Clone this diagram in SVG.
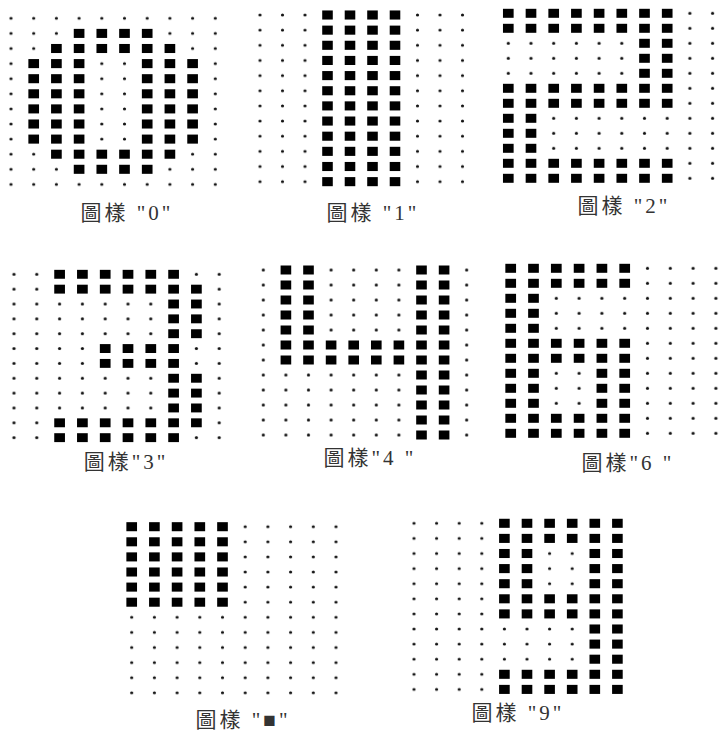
<svg xmlns="http://www.w3.org/2000/svg" xmlns:xlink="http://www.w3.org/1999/xlink" width="720" height="731" viewBox="0 0 720 731">
<style>
.lbl{font-family:"Liberation Serif","Noto Sans CJK TC",serif;font-size:21px;fill:#333;text-anchor:middle;letter-spacing:3px}
</style>
<defs>
<pattern id="dots" patternUnits="userSpaceOnUse" x="-0.5" y="-0.5" width="1" height="1">
<ellipse cx="0.5" cy="0.5" rx="0.07" ry="0.1" fill="#111"/>
</pattern>
<rect id="s" x="-0.235" y="-0.3" width="0.47" height="0.6" fill="#000"/>
</defs>
<rect width="720" height="731" fill="#fff"/>

<g id="pattern-0">
<g transform="translate(11,18.3) scale(22.7,15.1)">
<rect x="-0.5" y="-0.5" width="10" height="12" fill="url(#dots)"/>
<use href="#s" x="3" y="1"/><use href="#s" x="4" y="1"/><use href="#s" x="5" y="1"/><use href="#s" x="6" y="1"/>
<use href="#s" x="2" y="2"/><use href="#s" x="3" y="2"/><use href="#s" x="4" y="2"/><use href="#s" x="5" y="2"/><use href="#s" x="6" y="2"/><use href="#s" x="7" y="2"/>
<use href="#s" x="1" y="3"/><use href="#s" x="2" y="3"/><use href="#s" x="3" y="3"/><use href="#s" x="6" y="3"/><use href="#s" x="7" y="3"/><use href="#s" x="8" y="3"/>
<use href="#s" x="1" y="4"/><use href="#s" x="2" y="4"/><use href="#s" x="3" y="4"/><use href="#s" x="6" y="4"/><use href="#s" x="7" y="4"/><use href="#s" x="8" y="4"/>
<use href="#s" x="1" y="5"/><use href="#s" x="2" y="5"/><use href="#s" x="3" y="5"/><use href="#s" x="6" y="5"/><use href="#s" x="7" y="5"/><use href="#s" x="8" y="5"/>
<use href="#s" x="1" y="6"/><use href="#s" x="2" y="6"/><use href="#s" x="3" y="6"/><use href="#s" x="6" y="6"/><use href="#s" x="7" y="6"/><use href="#s" x="8" y="6"/>
<use href="#s" x="1" y="7"/><use href="#s" x="2" y="7"/><use href="#s" x="3" y="7"/><use href="#s" x="6" y="7"/><use href="#s" x="7" y="7"/><use href="#s" x="8" y="7"/>
<use href="#s" x="1" y="8"/><use href="#s" x="2" y="8"/><use href="#s" x="3" y="8"/><use href="#s" x="6" y="8"/><use href="#s" x="7" y="8"/><use href="#s" x="8" y="8"/>
<use href="#s" x="2" y="9"/><use href="#s" x="3" y="9"/><use href="#s" x="4" y="9"/><use href="#s" x="5" y="9"/><use href="#s" x="6" y="9"/><use href="#s" x="7" y="9"/>
<use href="#s" x="3" y="10"/><use href="#s" x="4" y="10"/><use href="#s" x="5" y="10"/><use href="#s" x="6" y="10"/>
</g>
<text class="lbl" x="127" y="220">圖樣 "0"</text>
</g>

<g id="pattern-1">
<g transform="translate(260,15) scale(22.5,15.15)">
<rect x="-0.5" y="-0.5" width="10" height="12" fill="url(#dots)"/>
<use href="#s" x="3" y="0"/><use href="#s" x="4" y="0"/><use href="#s" x="5" y="0"/><use href="#s" x="6" y="0"/>
<use href="#s" x="3" y="1"/><use href="#s" x="4" y="1"/><use href="#s" x="5" y="1"/><use href="#s" x="6" y="1"/>
<use href="#s" x="3" y="2"/><use href="#s" x="4" y="2"/><use href="#s" x="5" y="2"/><use href="#s" x="6" y="2"/>
<use href="#s" x="3" y="3"/><use href="#s" x="4" y="3"/><use href="#s" x="5" y="3"/><use href="#s" x="6" y="3"/>
<use href="#s" x="3" y="4"/><use href="#s" x="4" y="4"/><use href="#s" x="5" y="4"/><use href="#s" x="6" y="4"/>
<use href="#s" x="3" y="5"/><use href="#s" x="4" y="5"/><use href="#s" x="5" y="5"/><use href="#s" x="6" y="5"/>
<use href="#s" x="3" y="6"/><use href="#s" x="4" y="6"/><use href="#s" x="5" y="6"/><use href="#s" x="6" y="6"/>
<use href="#s" x="3" y="7"/><use href="#s" x="4" y="7"/><use href="#s" x="5" y="7"/><use href="#s" x="6" y="7"/>
<use href="#s" x="3" y="8"/><use href="#s" x="4" y="8"/><use href="#s" x="5" y="8"/><use href="#s" x="6" y="8"/>
<use href="#s" x="3" y="9"/><use href="#s" x="4" y="9"/><use href="#s" x="5" y="9"/><use href="#s" x="6" y="9"/>
<use href="#s" x="3" y="10"/><use href="#s" x="4" y="10"/><use href="#s" x="5" y="10"/><use href="#s" x="6" y="10"/>
<use href="#s" x="3" y="11"/><use href="#s" x="4" y="11"/><use href="#s" x="5" y="11"/><use href="#s" x="6" y="11"/>
</g>
<text class="lbl" x="373" y="220">圖樣 "1"</text>
</g>

<g id="pattern-2">
<g transform="translate(508.3,13.3) scale(22.7,15)">
<rect x="-0.5" y="-0.5" width="10" height="12" fill="url(#dots)"/>
<use href="#s" x="0" y="0"/><use href="#s" x="1" y="0"/><use href="#s" x="2" y="0"/><use href="#s" x="3" y="0"/><use href="#s" x="4" y="0"/><use href="#s" x="5" y="0"/><use href="#s" x="6" y="0"/><use href="#s" x="7" y="0"/>
<use href="#s" x="0" y="1"/><use href="#s" x="1" y="1"/><use href="#s" x="2" y="1"/><use href="#s" x="3" y="1"/><use href="#s" x="4" y="1"/><use href="#s" x="5" y="1"/><use href="#s" x="6" y="1"/><use href="#s" x="7" y="1"/>
<use href="#s" x="6" y="2"/><use href="#s" x="7" y="2"/>
<use href="#s" x="6" y="3"/><use href="#s" x="7" y="3"/>
<use href="#s" x="6" y="4"/><use href="#s" x="7" y="4"/>
<use href="#s" x="0" y="5"/><use href="#s" x="1" y="5"/><use href="#s" x="2" y="5"/><use href="#s" x="3" y="5"/><use href="#s" x="4" y="5"/><use href="#s" x="5" y="5"/><use href="#s" x="6" y="5"/><use href="#s" x="7" y="5"/>
<use href="#s" x="0" y="6"/><use href="#s" x="1" y="6"/><use href="#s" x="2" y="6"/><use href="#s" x="3" y="6"/><use href="#s" x="4" y="6"/><use href="#s" x="5" y="6"/><use href="#s" x="6" y="6"/><use href="#s" x="7" y="6"/>
<use href="#s" x="0" y="7"/><use href="#s" x="1" y="7"/>
<use href="#s" x="0" y="8"/><use href="#s" x="1" y="8"/>
<use href="#s" x="0" y="9"/><use href="#s" x="1" y="9"/>
<use href="#s" x="0" y="10"/><use href="#s" x="1" y="10"/><use href="#s" x="2" y="10"/><use href="#s" x="3" y="10"/><use href="#s" x="4" y="10"/><use href="#s" x="5" y="10"/><use href="#s" x="6" y="10"/><use href="#s" x="7" y="10"/>
<use href="#s" x="0" y="11"/><use href="#s" x="1" y="11"/><use href="#s" x="2" y="11"/><use href="#s" x="3" y="11"/><use href="#s" x="4" y="11"/><use href="#s" x="5" y="11"/><use href="#s" x="6" y="11"/><use href="#s" x="7" y="11"/>
</g>
<text class="lbl" x="624" y="213">圖樣 "2"</text>
</g>

<g id="pattern-3">
<g transform="translate(14,274.3) scale(22.8,14.85)">
<rect x="-0.5" y="-0.5" width="10" height="12" fill="url(#dots)"/>
<use href="#s" x="2" y="0"/><use href="#s" x="3" y="0"/><use href="#s" x="4" y="0"/><use href="#s" x="5" y="0"/><use href="#s" x="6" y="0"/><use href="#s" x="7" y="0"/>
<use href="#s" x="2" y="1"/><use href="#s" x="3" y="1"/><use href="#s" x="4" y="1"/><use href="#s" x="5" y="1"/><use href="#s" x="6" y="1"/><use href="#s" x="7" y="1"/><use href="#s" x="8" y="1"/>
<use href="#s" x="7" y="2"/><use href="#s" x="8" y="2"/>
<use href="#s" x="7" y="3"/><use href="#s" x="8" y="3"/>
<use href="#s" x="7" y="4"/><use href="#s" x="8" y="4"/>
<use href="#s" x="4" y="5"/><use href="#s" x="5" y="5"/><use href="#s" x="6" y="5"/><use href="#s" x="7" y="5"/>
<use href="#s" x="4" y="6"/><use href="#s" x="5" y="6"/><use href="#s" x="6" y="6"/><use href="#s" x="7" y="6"/>
<use href="#s" x="7" y="7"/><use href="#s" x="8" y="7"/>
<use href="#s" x="7" y="8"/><use href="#s" x="8" y="8"/>
<use href="#s" x="7" y="9"/><use href="#s" x="8" y="9"/>
<use href="#s" x="2" y="10"/><use href="#s" x="3" y="10"/><use href="#s" x="4" y="10"/><use href="#s" x="5" y="10"/><use href="#s" x="6" y="10"/><use href="#s" x="7" y="10"/><use href="#s" x="8" y="10"/>
<use href="#s" x="2" y="11"/><use href="#s" x="3" y="11"/><use href="#s" x="4" y="11"/><use href="#s" x="5" y="11"/><use href="#s" x="6" y="11"/><use href="#s" x="7" y="11"/>
</g>
<text class="lbl" x="126" y="469">圖樣"3"</text>
</g>

<g id="pattern-4">
<g transform="translate(263.3,270) scale(22.6,15)">
<rect x="-0.5" y="-0.5" width="10" height="12" fill="url(#dots)"/>
<use href="#s" x="1" y="0"/><use href="#s" x="2" y="0"/><use href="#s" x="7" y="0"/><use href="#s" x="8" y="0"/>
<use href="#s" x="1" y="1"/><use href="#s" x="2" y="1"/><use href="#s" x="7" y="1"/><use href="#s" x="8" y="1"/>
<use href="#s" x="1" y="2"/><use href="#s" x="2" y="2"/><use href="#s" x="7" y="2"/><use href="#s" x="8" y="2"/>
<use href="#s" x="1" y="3"/><use href="#s" x="2" y="3"/><use href="#s" x="7" y="3"/><use href="#s" x="8" y="3"/>
<use href="#s" x="1" y="4"/><use href="#s" x="2" y="4"/><use href="#s" x="7" y="4"/><use href="#s" x="8" y="4"/>
<use href="#s" x="1" y="5"/><use href="#s" x="2" y="5"/><use href="#s" x="3" y="5"/><use href="#s" x="4" y="5"/><use href="#s" x="5" y="5"/><use href="#s" x="6" y="5"/><use href="#s" x="7" y="5"/><use href="#s" x="8" y="5"/>
<use href="#s" x="1" y="6"/><use href="#s" x="2" y="6"/><use href="#s" x="3" y="6"/><use href="#s" x="4" y="6"/><use href="#s" x="5" y="6"/><use href="#s" x="6" y="6"/><use href="#s" x="7" y="6"/><use href="#s" x="8" y="6"/>
<use href="#s" x="7" y="7"/><use href="#s" x="8" y="7"/>
<use href="#s" x="7" y="8"/><use href="#s" x="8" y="8"/>
<use href="#s" x="7" y="9"/><use href="#s" x="8" y="9"/>
<use href="#s" x="7" y="10"/><use href="#s" x="8" y="10"/>
<use href="#s" x="7" y="11"/><use href="#s" x="8" y="11"/>
</g>
<text class="lbl" x="370" y="465">圖樣"4 "</text>
</g>

<g id="pattern-6">
<g transform="translate(510.7,268.3) scale(22.8,15)">
<rect x="-0.5" y="-0.5" width="10" height="12" fill="url(#dots)"/>
<use href="#s" x="0" y="0"/><use href="#s" x="1" y="0"/><use href="#s" x="2" y="0"/><use href="#s" x="3" y="0"/><use href="#s" x="4" y="0"/><use href="#s" x="5" y="0"/>
<use href="#s" x="0" y="1"/><use href="#s" x="1" y="1"/><use href="#s" x="2" y="1"/><use href="#s" x="3" y="1"/><use href="#s" x="4" y="1"/><use href="#s" x="5" y="1"/>
<use href="#s" x="0" y="2"/><use href="#s" x="1" y="2"/>
<use href="#s" x="0" y="3"/><use href="#s" x="1" y="3"/>
<use href="#s" x="0" y="4"/><use href="#s" x="1" y="4"/>
<use href="#s" x="0" y="5"/><use href="#s" x="1" y="5"/><use href="#s" x="2" y="5"/><use href="#s" x="3" y="5"/><use href="#s" x="4" y="5"/><use href="#s" x="5" y="5"/>
<use href="#s" x="0" y="6"/><use href="#s" x="1" y="6"/><use href="#s" x="2" y="6"/><use href="#s" x="3" y="6"/><use href="#s" x="4" y="6"/><use href="#s" x="5" y="6"/>
<use href="#s" x="0" y="7"/><use href="#s" x="1" y="7"/><use href="#s" x="4" y="7"/><use href="#s" x="5" y="7"/>
<use href="#s" x="0" y="8"/><use href="#s" x="1" y="8"/><use href="#s" x="4" y="8"/><use href="#s" x="5" y="8"/>
<use href="#s" x="0" y="9"/><use href="#s" x="1" y="9"/><use href="#s" x="4" y="9"/><use href="#s" x="5" y="9"/>
<use href="#s" x="0" y="10"/><use href="#s" x="1" y="10"/><use href="#s" x="2" y="10"/><use href="#s" x="3" y="10"/><use href="#s" x="4" y="10"/><use href="#s" x="5" y="10"/>
<use href="#s" x="0" y="11"/><use href="#s" x="1" y="11"/><use href="#s" x="2" y="11"/><use href="#s" x="3" y="11"/><use href="#s" x="4" y="11"/><use href="#s" x="5" y="11"/>
</g>
<text class="lbl" x="628" y="470">圖樣"6 "</text>
</g>

<g id="pattern-square">
<g transform="translate(131.7,526.7) scale(22.7,15.1)">
<rect x="-0.5" y="-0.5" width="10" height="12" fill="url(#dots)"/>
<use href="#s" x="0" y="0"/><use href="#s" x="1" y="0"/><use href="#s" x="2" y="0"/><use href="#s" x="3" y="0"/><use href="#s" x="4" y="0"/>
<use href="#s" x="0" y="1"/><use href="#s" x="1" y="1"/><use href="#s" x="2" y="1"/><use href="#s" x="3" y="1"/><use href="#s" x="4" y="1"/>
<use href="#s" x="0" y="2"/><use href="#s" x="1" y="2"/><use href="#s" x="2" y="2"/><use href="#s" x="3" y="2"/><use href="#s" x="4" y="2"/>
<use href="#s" x="0" y="3"/><use href="#s" x="1" y="3"/><use href="#s" x="2" y="3"/><use href="#s" x="3" y="3"/><use href="#s" x="4" y="3"/>
<use href="#s" x="0" y="4"/><use href="#s" x="1" y="4"/><use href="#s" x="2" y="4"/><use href="#s" x="3" y="4"/><use href="#s" x="4" y="4"/>
<use href="#s" x="0" y="5"/><use href="#s" x="1" y="5"/><use href="#s" x="2" y="5"/><use href="#s" x="3" y="5"/><use href="#s" x="4" y="5"/>
</g>
<text class="lbl" x="243" y="727">圖樣 "■"</text>
</g>

<g id="pattern-9">
<g transform="translate(414,523.3) scale(22.6,15.1)">
<rect x="-0.5" y="-0.5" width="10" height="12" fill="url(#dots)"/>
<use href="#s" x="4" y="0"/><use href="#s" x="5" y="0"/><use href="#s" x="6" y="0"/><use href="#s" x="7" y="0"/><use href="#s" x="8" y="0"/><use href="#s" x="9" y="0"/>
<use href="#s" x="4" y="1"/><use href="#s" x="5" y="1"/><use href="#s" x="6" y="1"/><use href="#s" x="7" y="1"/><use href="#s" x="8" y="1"/><use href="#s" x="9" y="1"/>
<use href="#s" x="4" y="2"/><use href="#s" x="5" y="2"/><use href="#s" x="8" y="2"/><use href="#s" x="9" y="2"/>
<use href="#s" x="4" y="3"/><use href="#s" x="5" y="3"/><use href="#s" x="8" y="3"/><use href="#s" x="9" y="3"/>
<use href="#s" x="4" y="4"/><use href="#s" x="5" y="4"/><use href="#s" x="8" y="4"/><use href="#s" x="9" y="4"/>
<use href="#s" x="4" y="5"/><use href="#s" x="5" y="5"/><use href="#s" x="6" y="5"/><use href="#s" x="7" y="5"/><use href="#s" x="8" y="5"/><use href="#s" x="9" y="5"/>
<use href="#s" x="4" y="6"/><use href="#s" x="5" y="6"/><use href="#s" x="6" y="6"/><use href="#s" x="7" y="6"/><use href="#s" x="8" y="6"/><use href="#s" x="9" y="6"/>
<use href="#s" x="8" y="7"/><use href="#s" x="9" y="7"/>
<use href="#s" x="8" y="8"/><use href="#s" x="9" y="8"/>
<use href="#s" x="8" y="9"/><use href="#s" x="9" y="9"/>
<use href="#s" x="4" y="10"/><use href="#s" x="5" y="10"/><use href="#s" x="6" y="10"/><use href="#s" x="7" y="10"/><use href="#s" x="8" y="10"/><use href="#s" x="9" y="10"/>
<use href="#s" x="4" y="11"/><use href="#s" x="5" y="11"/><use href="#s" x="6" y="11"/><use href="#s" x="7" y="11"/><use href="#s" x="8" y="11"/><use href="#s" x="9" y="11"/>
</g>
<text class="lbl" x="518" y="720">圖樣 "9"</text>
</g>
</svg>
